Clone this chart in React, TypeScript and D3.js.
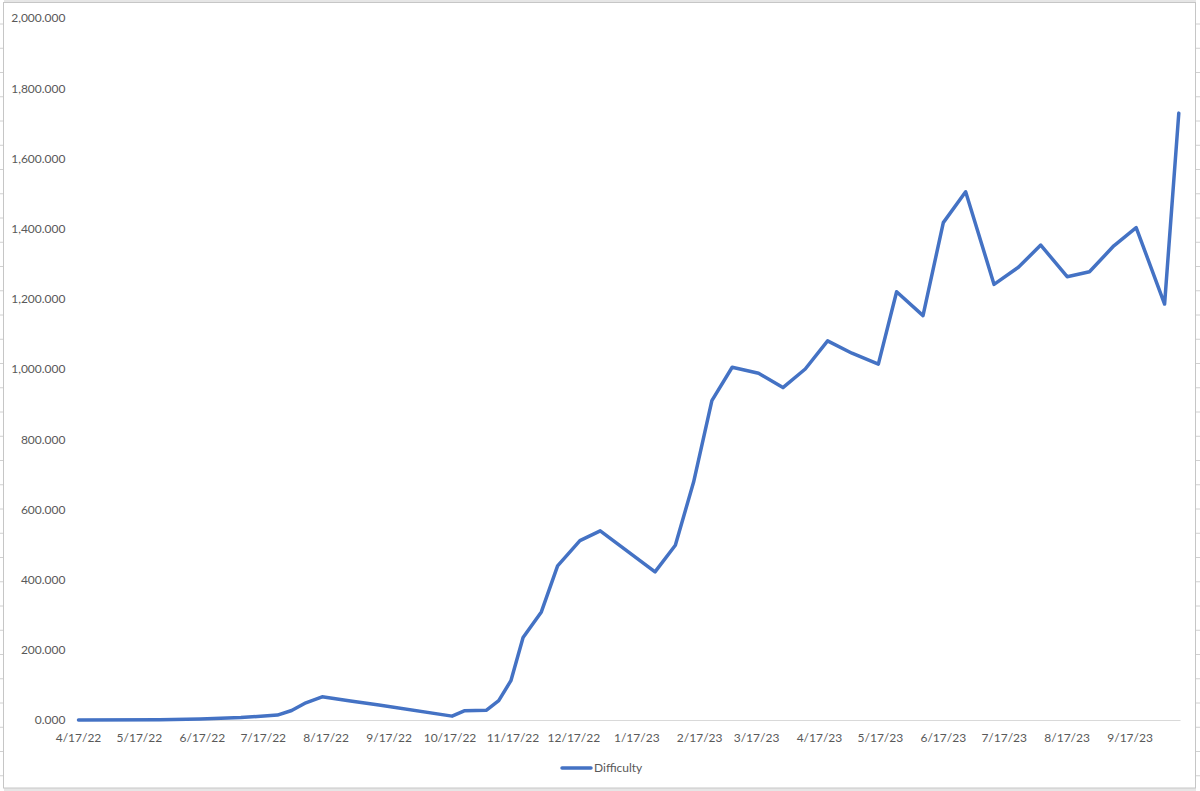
import React from "react";
import * as d3 from "d3";

const dates: string[] = [
  "2022-04-17", "2022-05-27", "2022-06-16", "2022-07-06", "2022-07-24", "2022-07-31",
  "2022-08-07", "2022-08-15", "2022-08-29", "2022-09-12", "2022-10-18", "2022-10-24",
  "2022-11-04", "2022-11-10", "2022-11-16", "2022-11-22", "2022-12-01", "2022-12-09",
  "2022-12-20", "2022-12-30", "2023-01-26", "2023-02-05", "2023-02-14", "2023-02-23",
  "2023-03-05", "2023-03-18", "2023-03-30", "2023-04-10", "2023-04-21", "2023-05-03",
  "2023-05-16", "2023-05-25", "2023-06-07", "2023-06-17", "2023-06-28", "2023-07-12",
  "2023-07-24", "2023-08-04", "2023-08-17", "2023-08-28", "2023-09-09", "2023-09-20",
  "2023-10-04", "2023-10-11",
];

const difficulty: number[] = [
  0, 0.5, 3, 7, 14, 27,
  49, 66, 54, 43, 11, 26,
  28, 55, 112, 235, 308, 439,
  511, 539, 422, 498, 678, 910,
  1005, 988, 947, 1000, 1080, 1045,
  1014, 1220, 1152, 1417, 1505, 1241,
  1290, 1353, 1263, 1277, 1351, 1403,
  1185, 1729,
];

const xTickLabels: string[] = [
  "4/17/22", "5/17/22", "6/17/22", "7/17/22", "8/17/22", "9/17/22", "10/17/22",
  "11/17/22", "12/17/22", "1/17/23", "2/17/23", "3/17/23", "4/17/23", "5/17/23",
  "6/17/23", "7/17/23", "8/17/23", "9/17/23",
];

const yTicks: number[] = [0, 200, 400, 600, 800, 1000, 1200, 1400, 1600, 1800, 2000];

const seriesName = "Difficulty";

const W = 1200;
const H = 791;
const FONT = "Lato, 'Open Sans', sans-serif";
const TEXT = "#595959";
const LINE = "#4472C4";

export default function App() {
  const parse = d3.utcParse("%Y-%m-%d")!;
  const parseTick = d3.utcParse("%m/%d/%y")!;
  const pts = dates.map((d, i) => ({ date: parse(d) as Date, v: difficulty[i] }));

  const x = d3
    .scaleUtc()
    .domain([pts[0].date, pts[pts.length - 1].date])
    .range([78.5, 1178.8]);
  const y = d3.scaleLinear().domain([0, 2000]).range([720, 18]);

  const line = d3
    .line<{ date: Date; v: number }>()
    .x((d) => x(d.date))
    .y((d) => y(d.v));

  const fmtY = d3.format(",.3f");

  const rowMarks = d3.range(24, H - 10, 24.25);

  return (
    <svg
      width={W}
      height={H}
      style={{ position: "absolute", left: 0, top: 0, display: "block" }}
      xmlns="http://www.w3.org/2000/svg"
    >
      <rect x={0} y={0} width={W} height={H} fill="#e6e6e6" />
      <rect x={0} y={0} width={4} height={H} fill="#ffffff" />
      <rect x={1196} y={0} width={4} height={H} fill="#ffffff" />
      {rowMarks.map((m, i) => (
        <g key={i}>
          <line x1={0} x2={4} y1={m} y2={m} stroke="#d0d0d0" strokeWidth={1} />
          <line x1={1196} x2={1200} y1={m} y2={m} stroke="#d0d0d0" strokeWidth={1} />
        </g>
      ))}
      <rect x={3.5} y={2.5} width={1192} height={785.5} fill="#ffffff" stroke="#c6c6c6" strokeWidth={1} />

      {/* y axis labels */}
      {yTicks.map((t) => (
        <text
          key={t}
          x={65.5}
          y={y(t)}
          dy="0.36em"
          textAnchor="end"
          fontFamily={FONT}
          fontSize={12}
          fill={TEXT}
        >
          {fmtY(t)}
        </text>
      ))}

      {/* x axis line */}
      <line x1={x.range()[0]} x2={1180.5} y1={720.5} y2={720.5} stroke="#d9d9d9" strokeWidth={1} />

      {/* x axis labels */}
      {xTickLabels.map((lab) => (
        <text
          key={lab}
          x={x(parseTick(lab) as Date)}
          y={738}
          dy="0.36em"
          textAnchor="middle"
          fontFamily={FONT}
          fontSize={12}
          fill={TEXT}
        >
          {lab}
        </text>
      ))}

      {/* data line */}
      <path
        d={line(pts) || ""}
        fill="none"
        stroke={LINE}
        strokeWidth={3.5}
        strokeLinejoin="round"
        strokeLinecap="round"
      />

      {/* legend */}
      <line x1={562} x2={591} y1={768} y2={768} stroke={LINE} strokeWidth={3.5} strokeLinecap="round" />
      <text x={594} y={768} dy="0.36em" fontFamily={FONT} fontSize={12} fill={TEXT}>
        {seriesName}
      </text>
    </svg>
  );
}
